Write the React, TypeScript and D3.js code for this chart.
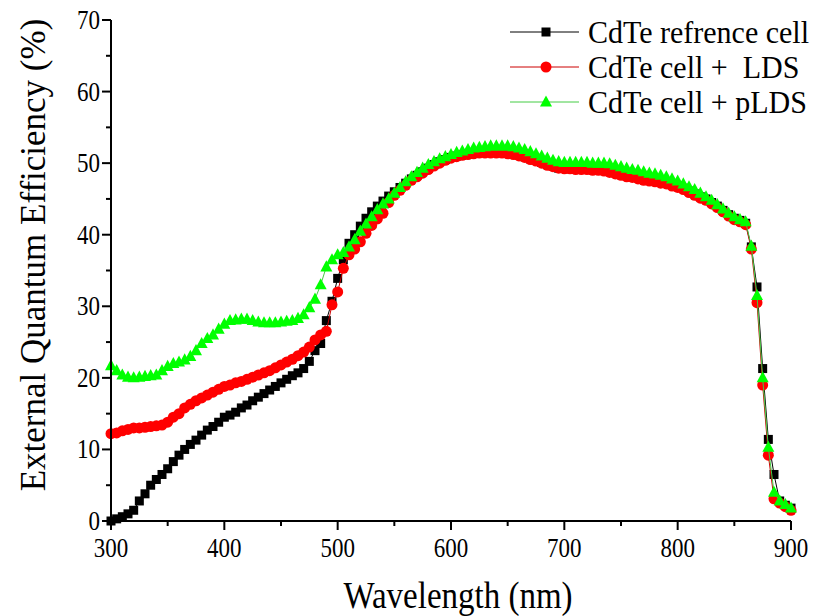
import React from "react";
import * as d3 from "d3";

const wavelengths: number[] = d3.range(300, 901, 5);

const refCell: number[] = [
  0, 0.3, 0.6, 1.0, 1.5, 2.8, 3.8, 5.0, 5.8, 6.5,
  7.3, 8.3, 9.2, 10.0, 10.7, 11.3, 12.0, 12.7, 13.2, 13.8,
  14.5, 14.8, 15.2, 15.8, 16.2, 16.8, 17.3, 17.8, 18.3, 18.8,
  19.3, 19.8, 20.3, 20.7, 21.3, 22.3, 23.8, 24.8, 28.0, 30.7,
  33.9, 36.5, 38.8, 40.0, 41.2, 42.3, 43.2, 44.0, 44.7, 45.4,
  46.0, 46.6, 47.2, 47.8, 48.3, 48.8, 49.3, 49.8, 50.2, 50.5,
  50.8, 51.0, 51.2, 51.3, 51.4, 51.5, 51.5, 51.6, 51.6, 51.5,
  51.4, 51.3, 51.1, 50.9, 50.6, 50.4, 50.1, 49.8, 49.6, 49.3,
  49.3, 49.2, 49.2, 49.2, 49.2, 49.1, 49.1, 49.0, 48.9, 48.7,
  48.4, 48.3, 48.2, 48.0, 47.8, 47.7, 47.6, 47.4, 47.3, 47.0,
  46.8, 46.5, 46.1, 45.7, 45.3, 45.0, 44.5, 44.0, 43.4, 42.8,
  42.3, 42.0, 41.6, 38.3, 32.7, 21.3, 11.4, 6.5, 2.8, 2.2,
  1.8,
];

const ldsCell: number[] = [
  12.2, 12.3, 12.6, 12.8, 13.0, 13.0, 13.1, 13.2, 13.3, 13.4,
  13.8, 14.5, 15.0, 15.8, 16.3, 16.8, 17.2, 17.6, 18.0, 18.4,
  18.8, 19.0, 19.3, 19.5, 19.8, 20.1, 20.4, 20.7, 21.0, 21.4,
  21.8, 22.2, 22.6, 23.1, 23.6, 24.3, 25.3, 26.0, 26.5, 30.2,
  32.0, 35.3, 37.2, 38.0, 39.0, 40.2, 41.3, 42.2, 43.0, 44.5,
  45.5, 46.2, 46.9, 47.6, 48.1, 48.6, 49.1, 49.6, 50.0, 50.4,
  50.7, 50.9, 51.1, 51.2, 51.3, 51.4, 51.4, 51.4, 51.4, 51.4,
  51.3, 51.2, 51.0, 50.8, 50.5, 50.3, 50.0, 49.7, 49.5, 49.3,
  49.2, 49.2, 49.1, 49.1, 49.1, 49.0, 49.0, 48.9, 48.7, 48.5,
  48.3, 48.1, 48.0, 47.8, 47.6, 47.5, 47.4, 47.2, 47.1, 46.8,
  46.6, 46.3, 45.9, 45.5, 45.1, 44.8, 44.3, 43.8, 43.2, 42.6,
  42.1, 41.8, 41.4, 38.0, 30.5, 19.0, 9.2, 3.1, 2.5, 2.0,
  1.5,
];

const pldsCell: number[] = [
  21.7, 21.0, 20.4, 20.1, 20.0, 20.1, 20.2, 20.3, 20.4, 21.0,
  21.6, 22.0, 22.2, 22.5, 23.0, 23.8, 24.8, 25.5, 26.0, 26.8,
  27.5, 28.0, 28.1, 28.2, 28.2, 28.0, 27.8, 27.7, 27.7, 27.7,
  27.8, 27.9, 28.0, 28.3, 28.8, 29.8, 31.0, 33.0, 35.5, 36.5,
  37.2, 37.5, 38.3, 39.3, 40.5, 41.5, 42.5, 43.5, 44.3, 45.0,
  45.8, 46.6, 47.4, 48.1, 48.7, 49.3, 49.8, 50.2, 50.6, 50.9,
  51.2, 51.5, 51.7, 51.9, 52.1, 52.2, 52.3, 52.4, 52.4, 52.4,
  52.4, 52.3, 52.1, 51.9, 51.6, 51.3, 51.0, 50.7, 50.4, 50.2,
  50.1, 50.1, 50.1, 50.1, 50.1, 50.0, 50.0, 50.0, 49.9, 49.7,
  49.5, 49.3, 49.1, 49.0, 48.8, 48.6, 48.5, 48.3, 48.1, 47.8,
  47.5, 47.1, 46.7, 46.3, 45.8, 45.3, 44.8, 44.2, 43.6, 43.0,
  42.5, 42.1, 41.8, 38.4, 31.5, 20.0, 10.3, 4.0, 2.8, 2.3,
  1.8,
];

const seriesNames: string[] = ["CdTe refrence cell", "CdTe cell +  LDS", "CdTe cell + pLDS"];
const seriesColors: string[] = ["#000000", "#ff0000", "#00ff00"];
const lineColors: string[] = ["#000000", "#cc0000", "#44cc44"];
const seriesShapes: string[] = ["square", "circle", "triangle"];
const xTicks: number[] = [300, 400, 500, 600, 700, 800, 900];
const yTicks: number[] = [0, 10, 20, 30, 40, 50, 60, 70];

const W = 816;
const H = 616;
const FONT = "'Liberation Serif', 'Times New Roman', serif";

function Marker({ shape, x, y, color }: { shape: string; x: number; y: number; color: string }) {
  if (shape === "square") {
    return <rect x={x - 4.5} y={y - 4.5} width={9} height={9} fill={color} />;
  }
  if (shape === "circle") {
    return <circle cx={x} cy={y} r={5.5} fill={color} />;
  }
  const s = 6;
  return (
    <path
      d={`M${x},${y - s * 1.1}L${x + s},${y + s * 0.75}L${x - s},${y + s * 0.75}Z`}
      fill={color}
    />
  );
}

function SText({
  x,
  y,
  size,
  sy,
  anchor,
  children,
}: {
  x: number;
  y: number;
  size: number;
  sy: number;
  anchor: string;
  children: React.ReactNode;
}) {
  return (
    <text
      transform={`translate(${x},${y}) scale(1,${sy})`}
      textAnchor={anchor}
      fontFamily={FONT}
      fontSize={size}
      fill="#000"
      style={{ whiteSpace: "pre" }}
    >
      {children}
    </text>
  );
}

export default function App() {
  const x = d3.scaleLinear().domain([300, 900]).range([111, 791]);
  const y = d3.scaleLinear().domain([0, 70]).range([521, 20]);
  const data = [refCell, ldsCell, pldsCell];

  const line = d3
    .line<number>()
    .x((_, i) => x(wavelengths[i]))
    .y((d) => y(d));

  const xMinor = d3.range(300, 901, 50);
  const yMinor = d3.range(0, 71, 5);

  return (
    <svg width={W} height={H} style={{ position: "absolute", left: 0, top: 0, background: "#fff" }}>
      <rect x={0} y={0} width={W} height={H} fill="#fff" />
      {data.map((vals, si) => (
        <g key={si}>
          <path d={line(vals) || ""} fill="none" stroke={lineColors[si]} strokeWidth={1} />
          {vals.map((v, i) => (
            <Marker key={i} shape={seriesShapes[si]} x={x(wavelengths[i])} y={y(v)} color={seriesColors[si]} />
          ))}
        </g>
      ))}
      <line x1={111} x2={111} y1={y(70)} y2={y(0)} stroke="#000" strokeWidth={2} />
      <line x1={x(300)} x2={x(900)} y1={521} y2={521} stroke="#000" strokeWidth={2} />
      {xMinor.map((t) => (
        <line key={"xm" + t} x1={x(t)} x2={x(t)} y1={521} y2={521 + (t % 100 === 0 ? 9 : 5)} stroke="#000" strokeWidth={2} />
      ))}
      {yMinor.map((t) => (
        <line key={"ym" + t} x1={111} x2={111 - (t % 10 === 0 ? 9 : 5)} y1={y(t)} y2={y(t)} stroke="#000" strokeWidth={2} />
      ))}
      {xTicks.map((t) => (
        <SText key={"xt" + t} x={x(t)} y={557} size={23} sy={1.15} anchor="middle">
          {t}
        </SText>
      ))}
      {yTicks.map((t) => (
        <SText key={"yt" + t} x={100} y={y(t) + 9} size={23} sy={1.15} anchor="end">
          {t}
        </SText>
      ))}
      <SText x={458} y={608} size={33} sy={1.15} anchor="middle">
        Wavelength (nm)
      </SText>
      <text
        transform={`translate(45, 255) rotate(-90)`}
        textAnchor="middle"
        fontFamily={FONT}
        fontSize={35}
        fill="#000"
      >
        External Quantum Efficiency (%)
      </text>
      {seriesNames.map((name, i) => {
        const cy = 32 + i * 35;
        return (
          <g key={"lg" + i}>
            <line x1={510} x2={579} y1={cy} y2={cy} stroke={lineColors[i]} strokeWidth={1} />
            <Marker shape={seriesShapes[i]} x={546} y={cy} color={seriesColors[i]} />
            <SText x={588} y={cy + 11} size={30} sy={1.05} anchor="start">
              {name}
            </SText>
          </g>
        );
      })}
    </svg>
  );
}
